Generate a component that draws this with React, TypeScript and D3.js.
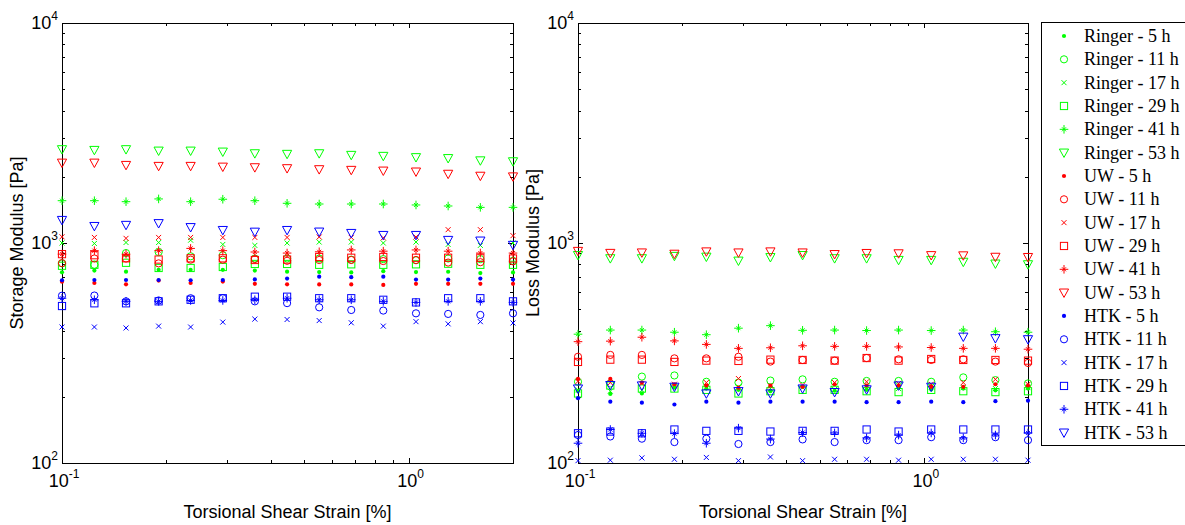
import React from 'react';
import * as d3 from 'd3';

// ---------- data ----------
const strain = [0.1, 0.124, 0.153, 0.19, 0.235, 0.291, 0.36, 0.446, 0.552, 0.683, 0.845, 1.05, 1.3, 1.61, 2.0];

const solutions = ['Ringer', 'UW', 'HTK'];
const solutionColors = ['#00ff00', '#ff0000', '#0000ff'];
const hours = [5, 11, 17, 29, 41, 53];
const markerKinds = ['point', 'circle', 'cross', 'square', 'star', 'triangle'];

const xMajorTicks = [0.1, 1];
const xMinorTicks = [0.2, 0.3, 0.4, 0.5, 0.6, 0.7, 0.8, 0.9];
const yMajorTicks = [100, 1000, 10000];
const yMinorTicks = [200, 300, 400, 500, 600, 700, 800, 900, 2000, 3000, 4000, 5000, 6000, 7000, 8000, 9000];

// Storage modulus [Pa]
const storageRinger5 = [736, 749, 741, 755, 755, 755, 749, 741, 738, 735, 745, 738, 740, 730, 735];
const storageRinger11 = [808, 796, 900, 910, 870, 880, 850, 850, 850, 840, 845, 835, 850, 845, 830];
const storageRinger17 = [1000, 995, 1005, 1005, 1030, 985, 975, 1000, 1010, 1010, 1000, 1010, 985, 975, 1000];
const storageRinger29 = [788, 796, 813, 770, 770, 778, 803, 803, 796, 800, 796, 800, 805, 796, 796];
const storageRinger41 = [1557, 1557, 1541, 1586, 1541, 1581, 1557, 1515, 1504, 1504, 1504, 1489, 1473, 1452, 1452];
const storageRinger53 = [2667, 2647, 2667, 2628, 2628, 2601, 2556, 2540, 2556, 2513, 2487, 2454, 2430, 2373, 2350];
const storageUW5 = [667, 658, 649, 675, 658, 668, 652, 649, 648, 648, 645, 652, 652, 652, 652];
const storageUW11 = [810, 850, 850, 808, 840, 840, 845, 830, 837, 837, 828, 837, 815, 818, 825];
const storageUW17 = [1067, 1060, 1050, 1060, 1060, 1060, 1060, 1060, 1065, 1060, 1055, 1065, 1150, 1150, 1080];
const storageUW29 = [890, 880, 852, 841, 852, 852, 837, 841, 864, 857, 864, 857, 857, 857, 850];
const storageUW41 = [890, 923, 890, 923, 945, 923, 910, 900, 912, 930, 918, 930, 918, 900, 900];
const storageUW53 = [2317, 2317, 2262, 2239, 2239, 2222, 2208, 2186, 2163, 2148, 2132, 2111, 2062, 2020, 2006];
const storageHTK5 = [677, 679, 679, 679, 677, 679, 683, 689, 703, 699, 703, 682, 682, 689, 682];
const storageHTK11 = [576, 577, 543, 548, 561, 561, 543, 533, 510, 496, 493, 479, 476, 471, 479];
const storageHTK17 = [415, 415, 411, 419, 415, 437, 451, 449, 444, 434, 419, 439, 429, 439, 433];
const storageHTK29 = [517, 532, 532, 543, 552, 561, 570, 570, 561, 561, 552, 537, 561, 561, 543];
const storageHTK41 = [561, 552, 543, 543, 548, 548, 552, 561, 552, 552, 543, 537, 543, 543, 537];
const storageHTK53 = [1272, 1194, 1208, 1230, 1180, 1145, 1125, 1145, 1126, 1110, 1087, 1087, 1032, 1025, 980];

// Loss modulus [Pa]
const lossRinger5 = [212, 206, 207, 220, 218, 215, 212, 222, 213, 215, 220, 216, 218, 214, 218];
const lossRinger11 = [234, 230, 247, 250, 234, 232, 237, 240, 234, 236, 236, 234, 245, 238, 230];
const lossRinger17 = [215, 212, 214, 225, 220, 222, 218, 220, 216, 220, 218, 222, 220, 218, 220];
const lossRinger29 = [207, 225, 218, 218, 215, 207, 212, 215, 215, 212, 210, 215, 212, 210, 212];
const lossRinger41 = [385, 402, 402, 393, 383, 410, 421, 401, 402, 400, 402, 400, 402, 395, 393];
const lossRinger53 = [881, 852, 852, 873, 866, 831, 862, 881, 852, 852, 837, 837, 821, 806, 800];
const lossUW5 = [241, 241, 232, 228, 225, 220, 225, 222, 228, 225, 225, 222, 222, 228, 225];
const lossUW11 = [304, 310, 310, 299, 299, 304, 289, 294, 292, 300, 296, 294, 296, 289, 285];
const lossUW17 = [235, 232, 230, 228, 232, 242, 224, 226, 232, 234, 230, 228, 232, 240, 228];
const lossUW29 = [288, 295, 295, 288, 292, 291, 295, 294, 292, 300, 292, 297, 294, 294, 292];
const lossUW41 = [356, 358, 373, 359, 346, 332, 334, 341, 339, 339, 337, 335, 332, 332, 329];
const lossUW53 = [920, 901, 905, 893, 915, 905, 915, 905, 890, 900, 897, 880, 878, 865, 863];
const lossHTK5 = [197, 190, 188, 184.5, 190, 188, 190, 190, 190, 189, 189, 190, 189, 191, 192];
const lossHTK11 = [134, 132, 129, 124.5, 129, 122, 124.5, 128, 124.5, 127, 127, 131, 127, 131, 127];
const lossHTK17 = [102.5, 103, 105.5, 104, 106, 102.5, 106.5, 102.5, 104, 104, 103, 104, 104, 104, 103];
const lossHTK29 = [136.5, 139, 136.5, 142, 140, 140, 139, 140, 140, 142, 139, 142, 142, 142, 142];
const lossHTK41 = [123, 142, 136.5, 136, 123, 144, 128.5, 137.5, 137, 130, 134, 137, 130, 134, 137];
const lossHTK53 = [218, 226, 225, 222, 207, 212, 207, 218, 210, 216, 225, 222, 375, 369, 365];

const storageData = [
  storageRinger5, storageRinger11, storageRinger17, storageRinger29, storageRinger41, storageRinger53,
  storageUW5, storageUW11, storageUW17, storageUW29, storageUW41, storageUW53,
  storageHTK5, storageHTK11, storageHTK17, storageHTK29, storageHTK41, storageHTK53,
];
const lossData = [
  lossRinger5, lossRinger11, lossRinger17, lossRinger29, lossRinger41, lossRinger53,
  lossUW5, lossUW11, lossUW17, lossUW29, lossUW41, lossUW53,
  lossHTK5, lossHTK11, lossHTK17, lossHTK29, lossHTK41, lossHTK53,
];

// series meta built from the small arrays
const seriesMeta = solutions.flatMap((s, si) =>
  hours.map((h, hi) => ({ name: `${s} - ${h} h`, color: solutionColors[si], kind: markerKinds[hi] }))
);

// ---------- drawing ----------
const SANS = '"Liberation Sans", Arial, sans-serif';
const SERIF = '"Liberation Serif", "Times New Roman", serif';

function Marker({ kind, x, y, color }: { kind: string; x: number; y: number; color: string }) {
  switch (kind) {
    case 'point':
      return <circle cx={x} cy={y} r={2.1} fill={color} />;
    case 'circle':
      return <circle cx={x} cy={y} r={3.6} fill="none" stroke={color} strokeWidth={1} />;
    case 'cross': {
      const s = 2.5;
      return (
        <path d={`M${x - s},${y - s}L${x + s},${y + s}M${x - s},${y + s}L${x + s},${y - s}`} stroke={color} strokeWidth={1} />
      );
    }
    case 'square':
      return <rect x={x - 3.6} y={y - 3.6} width={7.2} height={7.2} fill="none" stroke={color} strokeWidth={1} />;
    case 'star': {
      const p = 4.3;
      const d = 2;
      return (
        <path
          d={`M${x - p},${y}L${x + p},${y}M${x},${y - p}L${x},${y + p}M${x - d},${y - d}L${x + d},${y + d}M${x - d},${y + d}L${x + d},${y - d}`}
          stroke={color}
          strokeWidth={1}
        />
      );
    }
    case 'triangle':
      return (
        <polygon
          points={`${x - 4.6},${y - 3.6} ${x + 4.6},${y - 3.6} ${x},${y + 4.8}`}
          fill="none"
          stroke={color}
          strokeWidth={1}
        />
      );
    default:
      return null;
  }
}

function Pow({ x, y, base, exp, anchor }: { x: number; y: number; base: string; exp: string; anchor: 'start' | 'middle' | 'end' }) {
  return (
    <text x={x} y={y} textAnchor={anchor} fontFamily={SANS} fontSize={18} fill="#000">
      <tspan>{base}</tspan>
      <tspan dy={-9} fontSize={12}>{exp}</tspan>
    </text>
  );
}

function Panel({ x0, x1, y0, y1, data, label }: { x0: number; x1: number; y0: number; y1: number; data: number[][]; label: string }) {
  const x = d3.scaleLog().domain([0.1, 2]).range([x0, x1]);
  const y = d3.scaleLog().domain([100, 10000]).range([y1, y0]);
  const major = 5;
  const minor = 3;
  const ticks: string[] = [];
  xMajorTicks.forEach((t) => {
    const px = Math.round(x(t)) + 0.5;
    ticks.push(`M${px},${y1}V${y1 - major}M${px},${y0}V${y0 + major}`);
  });
  xMinorTicks.forEach((t) => {
    const px = Math.round(x(t)) + 0.5;
    ticks.push(`M${px},${y1}V${y1 - minor}M${px},${y0}V${y0 + minor}`);
  });
  yMajorTicks.forEach((t) => {
    const py = Math.round(y(t)) + 0.5;
    ticks.push(`M${x0},${py}H${x0 + major}M${x1},${py}H${x1 - major}`);
  });
  yMinorTicks.forEach((t) => {
    const py = Math.round(y(t)) + 0.5;
    ticks.push(`M${x0},${py}H${x0 + minor}M${x1},${py}H${x1 - minor}`);
  });
  const cy = (y0 + y1) / 2;
  return (
    <g>
      <rect x={x0 + 0.5} y={y0 + 0.5} width={x1 - x0} height={y1 - y0} fill="#fff" stroke="none" />
      <path d={ticks.join('')} stroke="#000" strokeWidth={1} fill="none" />
      <rect x={x0 + 0.5} y={y0 + 0.5} width={x1 - x0} height={y1 - y0} fill="none" stroke="#000" strokeWidth={1} />
      {yMajorTicks.map((t) => (
        <Pow key={t} x={x0 - 4} y={y(t) + 6} base="10" exp={String(Math.round(Math.log10(t)))} anchor="end" />
      ))}
      {xMajorTicks.map((t) => (
        <Pow key={t} x={x(t) + 2} y={y1 + 24} base="10" exp={String(Math.round(Math.log10(t)))} anchor="middle" />
      ))}
      <text x={(x0 + x1) / 2} y={y1 + 55} textAnchor="middle" fontFamily={SANS} fontSize={18} fill="#000">
        Torsional Shear Strain [%]
      </text>
      <text
        transform={`translate(${x0 - 39},${cy}) rotate(-90)`}
        textAnchor="middle"
        fontFamily={SANS}
        fontSize={18}
        fill="#000"
      >
        {label}
      </text>
      {data.map((vals, si) => (
        <g key={si}>
          {vals.map((v, i) => (
            <Marker key={i} kind={seriesMeta[si].kind} color={seriesMeta[si].color} x={x(strain[i])} y={y(v)} />
          ))}
        </g>
      ))}
    </g>
  );
}

function Legend() {
  const lx = 1041;
  const top = 22;
  const step = 23.33;
  return (
    <g>
      <rect x={lx + 0.5} y={top + 0.5} width={160} height={423} fill="#fff" stroke="#000" strokeWidth={1} />
      {seriesMeta.map((s, i) => {
        const cy = 36 + i * step;
        return (
          <g key={s.name}>
            <Marker kind={s.kind} color={s.color} x={1064} y={cy} />
            <text x={1084} y={cy + 6} fontFamily={SERIF} fontSize={18} fill="#000">
              {s.name}
            </text>
          </g>
        );
      })}
    </g>
  );
}

export default function App() {
  return (
    <svg
      width={1185}
      height={525}
      viewBox="0 0 1185 525"
      style={{ position: 'absolute', left: 0, top: 0, background: '#fff' }}
    >
      <rect width={1185} height={525} fill="#fff" />
      <Panel x0={62} x1={513} y0={23} y1={463} data={storageData} label="Storage Modulus [Pa]" />
      <Panel x0={578} x1={1028} y0={23} y1={463} data={lossData} label="Loss Modulus [Pa]" />
      <Legend />
    </svg>
  );
}
